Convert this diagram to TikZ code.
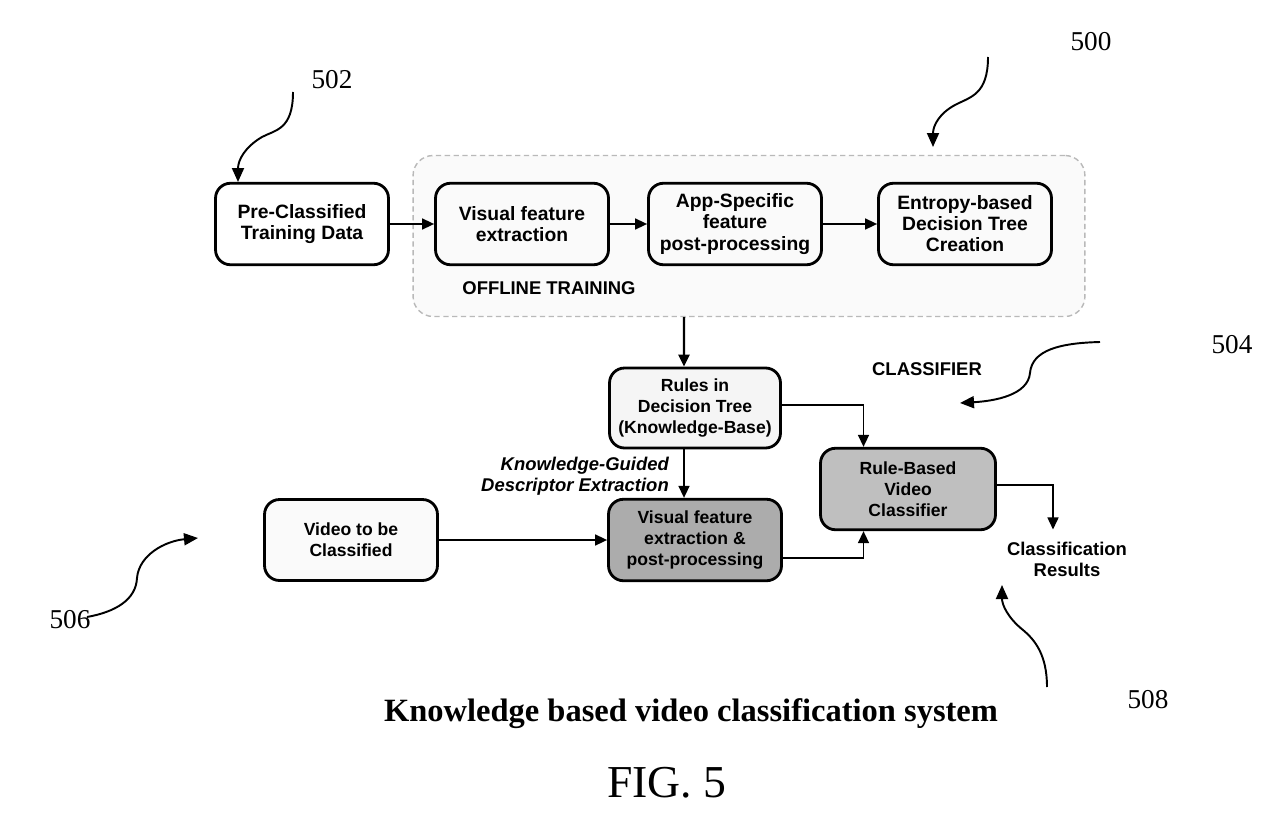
\documentclass[tikz,border=0pt]{standalone}
\usepackage{fontspec}
\setmainfont{Liberation Serif}
\setsansfont{Liberation Sans}
\usetikzlibrary{arrows.meta}

\begin{document}
\begin{tikzpicture}[x=0.02cm, y=-0.02cm,
    box/.style = {draw, line width=1.6pt, rounded corners=3mm, align=center, inner sep=1pt,
        minimum width=3.46cm, minimum height=1.63cm,
        font=\sffamily\bfseries\fontsize{11}{12}\selectfont},
    lowbox/.style = {box, font=\sffamily\bfseries\fontsize{10}{11.8}\selectfont},
    lbl/.style = {align=center, font=\sffamily\bfseries\fontsize{10.5}{12}\selectfont},
    num/.style = {font=\fontsize{15.5}{16}\selectfont},
    link/.style = {line width=0.9pt, -{Triangle[length=2.4mm, width=2.2mm]}},
    callout/.style = {line width=1.1pt, -{Triangle[length=2.8mm, width=2.4mm]}}]

    \useasboundingbox (0,0) rectangle (1285,828);
    \fill[white] (0,0) rectangle (1285,828);

    % Disegna il riquadro dell'addestramento offline
    \node[draw=gray!55, densely dashed, line width=0.8pt, fill=gray!4, rounded corners=4mm,
        minimum width=13.44cm, minimum height=3.22cm] (offline) at (749, 236) {};
    \node[lbl] (offlbl) at (549, 288) {OFFLINE TRAINING};

    % Disegna i nodi
    \node[box] (pre) at (302, 224) {Pre-Classified\\Training Data};
    \node[box] (vfe) at (522, 224) {Visual feature\\extraction};
    \node[box] (app) at (735, 224) {App-Specific\\feature\\post-processing};
    \node[box] (ent) at (965, 224) {Entropy-based\\Decision Tree\\Creation};

    \node[lowbox, fill=gray!8, minimum width=3.42cm, minimum height=1.6cm] (rules) at (695, 408) {Rules in\\Decision Tree\\(Knowledge-Base)};
    \node[lowbox, fill=gray!50, minimum width=3.5cm] (rbc) at (908, 489) {Rule-Based\\Video\\Classifier};
    \node[lowbox, fill=gray!65] (vfp) at (695, 540) {Visual feature\\extraction \&\\post-processing};
    \node[lowbox, fill=gray!4, minimum height=1.62cm] (video) at (351, 540) {Video to be\\Classified};

    \node[lbl, anchor=east, align=right, font=\sffamily\bfseries\itshape\fontsize{10.5}{12}\selectfont] (kg) at (675, 476) {Knowledge-Guided\\Descriptor Extraction};
    \node[lbl] (clf) at (927, 369) {CLASSIFIER};
    \node[lbl] (res) at (1067, 559) {Classification\\Results};

    % Numeri di riferimento
    \node[num] (n500) at (1091, 42) {500};
    \node[num] (n502) at (332, 80) {502};
    \node[num] (n504) at (1232, 345) {504};
    \node[num] (n506) at (70, 620) {506};
    \node[num] (n508) at (1148, 700) {508};

    \node[font=\bfseries\fontsize{18.5}{20}\selectfont] (title) at (691, 714) {Knowledge based video classification system};
    \node[font=\fontsize{26}{28}\selectfont] (fig) at (667, 783) {FIG. 5};

    % Collegamenti
    \draw[link] (pre) -- (vfe);
    \draw[link] (vfe) -- (app);
    \draw[link] (app) -- (ent);
    \draw[link, line width=1.4pt] ([xshift=-1.3cm]offline.south) -- ([xshift=-2.2mm]rules.north);
    \draw[link] ([xshift=-2.2mm]rules.south) -- ([xshift=-2.2mm]vfp.north);
    \draw[link] ([yshift=0.6mm]rules.east) -| ([xshift=-8.9mm]rbc.north);
    \draw[link] (video) -- (vfp);
    \draw[link] ([yshift=-3.6mm]vfp.east) -| ([xshift=-8.9mm]rbc.south);
    \draw[link] ([yshift=0.8mm]rbc.east) -| ([xshift=-2.8mm, yshift=1.2mm]res.north);

    % Frecce dei riferimenti
    \coordinate (c500a) at (988, 57);   \coordinate (c500b) at (933, 147);
    \coordinate (c502a) at (293, 92);   \coordinate (c502b) at (238, 182);
    \coordinate (c504a) at (1100, 342); \coordinate (c504b) at (960, 403);
    \coordinate (c506a) at (87, 617);   \coordinate (c506b) at (198, 538);
    \coordinate (c508a) at (1047, 687); \coordinate (c508b) at (1002, 585);

    \draw[callout] (c500a) .. controls (988, 95) and (970, 97) .. (955, 105) .. controls (940, 113) and (933, 125) .. (c500b);
    \draw[callout] (c502a) .. controls (293, 130) and (275, 130) .. (262, 137) .. controls (245, 147) and (238, 160) .. (c502b);
    \draw[callout] (c504a) .. controls (1060, 343) and (1032, 350) .. (1030, 373) .. controls (1028, 395) and (995, 401) .. (c504b);
    \draw[callout] (c506a) .. controls (115, 612) and (136, 600) .. (137, 578) .. controls (139, 555) and (165, 541) .. (c506b);
    \draw[callout] (c508a) .. controls (1047, 655) and (1035, 640) .. (1023, 630) .. controls (1008, 618) and (1002, 605) .. (c508b);

\end{tikzpicture}
\end{document}
